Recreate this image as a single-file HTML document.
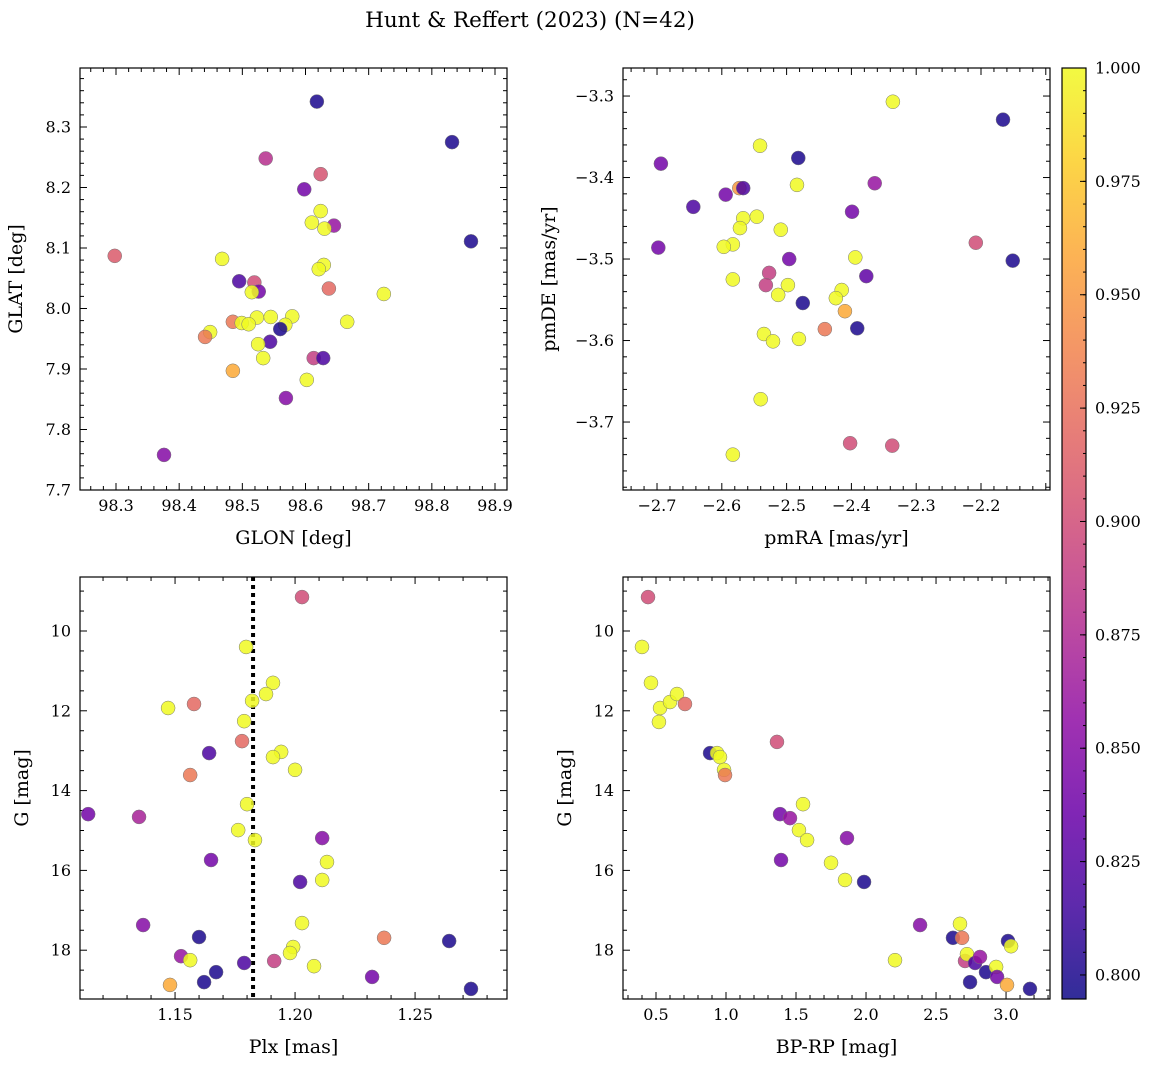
<!DOCTYPE html>
<html><head><meta charset="utf-8"><style>
body{margin:0;background:#fff;}
svg{display:block;font-family:"DejaVu Serif","Liberation Serif",serif;}
</style></head><body>
<svg id="chart" width="1160" height="1067" xmlns="http://www.w3.org/2000/svg">
<text x="530" y="27" text-anchor="middle" font-size="21.5">Hunt &amp; Reffert (2023) (N=42)</text>
</svg>
<script>
// Panel 1: GLON / GLAT
const glonA=[98.618,98.832,98.537,98.624,98.598,98.624,98.610,98.645,98.630,98.862,98.298,98.468,98.629,98.621,98.495,98.519,98.637,98.526,98.515,98.724,98.579,98.545,98.523,98.666,98.485,98.499,98.510,98.568,98.560,98.449,98.441,98.544,98.525,98.613,98.628,98.533,98.485,98.602,98.569,98.376];
const glatA=[8.342,8.275,8.248,8.222,8.197,8.161,8.142,8.137,8.132,8.111,8.087,8.082,8.072,8.065,8.045,8.043,8.033,8.028,8.027,8.024,7.987,7.986,7.985,7.978,7.978,7.976,7.974,7.973,7.966,7.961,7.953,7.945,7.941,7.918,7.918,7.918,7.897,7.882,7.852,7.758];
const probA=[0.80,0.80,0.88,0.905,0.84,1,1,0.86,1,0.80,0.91,1,1,1,0.82,0.90,0.92,0.84,1,1,1,1,1,1,0.93,1,1,1,0.80,1,0.93,0.82,1,0.89,0.82,1,0.96,1,0.85,0.85];
// Panel 2: pmRA / pmDE
const pmraB=[-2.336,-2.166,-2.541,-2.482,-2.694,-2.484,-2.364,-2.573,-2.567,-2.594,-2.644,-2.399,-2.567,-2.546,-2.572,-2.509,-2.583,-2.597,-2.698,-2.208,-2.496,-2.394,-2.151,-2.527,-2.377,-2.583,-2.532,-2.498,-2.415,-2.513,-2.424,-2.475,-2.410,-2.441,-2.391,-2.535,-2.521,-2.481,-2.540,-2.402,-2.337,-2.583];
const pmdeB=[-3.307,-3.329,-3.361,-3.376,-3.383,-3.409,-3.407,-3.413,-3.413,-3.421,-3.436,-3.442,-3.450,-3.448,-3.462,-3.464,-3.482,-3.485,-3.486,-3.480,-3.500,-3.498,-3.502,-3.517,-3.521,-3.525,-3.532,-3.532,-3.538,-3.544,-3.548,-3.554,-3.564,-3.586,-3.585,-3.592,-3.601,-3.598,-3.672,-3.726,-3.729,-3.740];
const probB=[1,0.80,1,0.80,0.84,1,0.86,0.95,0.82,0.84,0.82,0.84,1,1,1,1,1,1,0.84,0.90,0.84,1,0.80,0.89,0.83,1,0.89,1,1,1,1,0.80,0.96,0.93,0.80,1,1,1,1,0.90,0.90,1];
// Panel 3: Plx / G
const plxC=[1.2029,1.1796,1.1908,1.1879,1.1821,1.1579,1.1471,1.1788,1.1779,1.1642,1.1942,1.1908,1.2000,1.1563,1.1800,1.1138,1.1350,1.1763,1.1833,1.2113,1.1650,1.2133,1.2113,1.2021,1.2029,1.1367,1.1600,1.2371,1.2642,1.1992,1.1979,1.1525,1.1563,1.1913,1.1788,1.2079,1.1671,1.2321,1.1621,1.1479,1.2733];
const gC=[9.15,10.40,11.30,11.58,11.75,11.83,11.93,12.26,12.76,13.06,13.03,13.16,13.48,13.61,14.34,14.59,14.66,14.99,15.24,15.19,15.74,15.79,16.24,16.29,17.32,17.37,17.67,17.69,17.77,17.92,18.07,18.15,18.25,18.27,18.32,18.40,18.55,18.67,18.80,18.87,18.97];
const probC=[0.90,1,1,1,1,0.92,1,1,0.92,0.82,1,1,1,0.93,1,0.84,0.87,1,1,0.85,0.84,1,1,0.82,1,0.85,0.80,0.93,0.80,1,1,0.86,1,0.89,0.82,1,0.80,0.84,0.80,0.96,0.80];
const plxRef=[1.1825];
// Panel 4: BP-RP / G
const bprpD=[0.443,0.400,0.464,0.529,0.521,0.600,0.650,0.707,0.886,0.936,0.957,0.986,0.993,1.364,1.386,1.457,1.550,1.521,1.579,1.864,1.393,1.750,1.850,1.986,2.207,2.386,2.621,2.671,2.686,2.707,2.721,2.779,2.814,2.743,2.857,2.929,2.936,3.014,3.036,3.007,3.171];
const gD=[9.15,10.40,11.30,11.93,12.28,11.78,11.58,11.83,13.06,13.06,13.16,13.48,13.61,12.78,14.59,14.69,14.34,14.99,15.24,15.19,15.74,15.81,16.24,16.29,18.25,17.37,17.69,17.34,17.69,18.27,18.10,18.32,18.17,18.80,18.55,18.42,18.67,17.77,17.90,18.87,18.97];
const probD=[0.90,1,1,1,1,1,1,0.92,0.80,1,1,1,0.93,0.90,0.84,0.86,1,1,1,0.85,0.84,1,1,0.80,1,0.85,0.80,1,0.93,0.89,1,0.82,0.86,0.80,0.80,1,0.84,0.80,1,0.96,0.80];
const cbTicks=["0.800","0.825","0.850","0.875","0.900","0.925","0.950","0.975","1.000"];
const vmin=0.7947,vmax=1.0;

const NS="http://www.w3.org/2000/svg";
const svg=document.getElementById('chart');
function mk(tag,attrs,parent){const e=document.createElementNS(NS,tag);for(const k in attrs)e.setAttribute(k,attrs[k]);(parent||svg).appendChild(e);return e;}
const stops=["#0d0887","#41049d","#6a00a8","#8f0da4","#b12a90","#cc4778","#e16462","#f2844b","#fca636","#fcce25","#f0f921"];
function hex(h){return [1,3,5].map(i=>parseInt(h.substr(i,2),16));}
function plasma(t){t=Math.max(0,Math.min(1,t));const f=t*10,i=Math.min(9,Math.floor(f)),r=f-i;const a=hex(stops[i]),b=hex(stops[i+1]);return 'rgb('+a.map((v,k)=>Math.round(v+(b[k]-v)*r)).join(',')+')';}
function cmap(p){return plasma((p-vmin)/(vmax-vmin));}
function fmt(v,d){return v.toFixed(d).replace('-','\u2212');}

function panel(o){
  const g=mk('g',{},svg);
  
  
  const X=v=>o.x0+(v-o.xmin)/(o.xmax-o.xmin)*(o.x1-o.x0);
  const Y=o.yinv?(v=>o.y0+(v-o.ymin)/(o.ymax-o.ymin)*(o.y1-o.y0)):(v=>o.y1-(v-o.ymin)/(o.ymax-o.ymin)*(o.y1-o.y0));
  const tg=mk('g',{stroke:'#000','stroke-width':1},g);
  for(let v=Math.ceil(o.xmin/o.xminor-1e-6)*o.xminor;v<=o.xmax+1e-9;v+=o.xminor){
    const px=X(v);const isMaj=Math.abs(v/o.xmajor-Math.round(v/o.xmajor))<1e-4;const L=isMaj?7:4;
    mk('line',{x1:px,x2:px,y1:o.y1,y2:o.y1-L},tg);mk('line',{x1:px,x2:px,y1:o.y0,y2:o.y0+L},tg);
    if(isMaj && px>o.x0+8 && px<o.x1-8){const t=mk('text',{x:px,y:o.y1+21,'text-anchor':'middle','font-size':16,stroke:'none',fill:'#000'},g);t.textContent=fmt(v,o.xd);
      }
  }
  for(let v=Math.ceil(o.ymin/o.yminor-1e-6)*o.yminor;v<=o.ymax+1e-9;v+=o.yminor){
    const py=Y(v);const isMaj=Math.abs(v/o.ymajor-Math.round(v/o.ymajor))<1e-4;const L=isMaj?7:4;
    mk('line',{x1:o.x0,x2:o.x0+L,y1:py,y2:py},tg);mk('line',{x1:o.x1,x2:o.x1-L,y1:py,y2:py},tg);
    if(isMaj){const t=mk('text',{x:o.x0-9,y:py+5.5,'text-anchor':'end','font-size':16,stroke:'none',fill:'#000'},g);t.textContent=fmt(v,o.yd);
      }
  }
  if(o.vline){o.vline.forEach(v=>{const l=mk('line',{x1:X(v),x2:X(v),y1:o.y0,y2:o.y1,stroke:'#000','stroke-width':4,'stroke-dasharray':'4 4'},g);
    });}
  o.xs.forEach((xv,i)=>{
    const c=mk('circle',{cx:X(xv),cy:Y(o.ys[i]),r:7,fill:cmap(o.ps[i]),'fill-opacity':0.85,stroke:'#777','stroke-width':0.5},g);
    
    
  });
  mk('rect',{x:o.x0,y:o.y0,width:o.x1-o.x0,height:o.y1-o.y0,fill:'none',stroke:'#000','stroke-width':1.2},g);
  const xl=mk('text',{x:(o.x0+o.x1)/2,y:o.y1+54,'text-anchor':'middle','font-size':19},g);xl.textContent=o.xlabel;
  
  const cy=(o.y0+o.y1)/2,cx=o.x0-o.ylabOff;
  const yl=mk('text',{x:cx,y:cy,'text-anchor':'middle','font-size':19,transform:'rotate(-90 '+cx+' '+cy+')'},g);yl.textContent=o.ylabel;
  
}
panel({name:'glon-glat-panel',x0:80,x1:507,y0:68,y1:490,xmin:98.243,xmax:98.919,ymin:7.7,ymax:8.3975,xmajor:0.1,xminor:0.02,ymajor:0.1,yminor:0.02,xd:1,yd:1,xs:glonA,ys:glatA,ps:probA,xlabel:'GLON [deg]',ylabel:'GLAT [deg]',ylabOff:58});
panel({name:'pm-panel',x0:623,x1:1050,y0:68,y1:490,xmin:-2.7525,xmax:-2.0935,ymin:-3.7834,ymax:-3.2656,xmajor:0.1,xminor:0.02,ymajor:0.1,yminor:0.02,xd:1,yd:1,xs:pmraB,ys:pmdeB,ps:probB,xlabel:'pmRA [mas/yr]',ylabel:'pmDE [mas/yr]',ylabOff:68});
panel({name:'plx-g-panel',x0:80,x1:507,y0:577,y1:999,xmin:1.1104,xmax:1.2883,ymin:8.647,ymax:19.223,yinv:true,xmajor:0.05,xminor:0.01,ymajor:2,yminor:0.5,xd:2,yd:0,xs:plxC,ys:gC,ps:probC,xlabel:'Plx [mas]',ylabel:'G [mag]',ylabOff:52,vline:plxRef});
panel({name:'cmd-panel',x0:623,x1:1050,y0:577,y1:999,xmin:0.2643,xmax:3.314,ymin:8.647,ymax:19.223,yinv:true,xmajor:0.5,xminor:0.1,ymajor:2,yminor:0.5,xd:1,yd:0,xs:bprpD,ys:gD,ps:probD,xlabel:'BP-RP [mag]',ylabel:'G [mag]',ylabOff:52});

// colorbar
const cb=mk('g',{},svg);


const defs=mk('defs',{},svg);
const lg=mk('linearGradient',{id:'cbg',x1:0,y1:1,x2:0,y2:0},defs);
for(let i=0;i<=20;i++){mk('stop',{offset:i/20,'stop-color':plasma(i/20),'stop-opacity':0.85},lg);}
const cbx=1062,cbw=24,cby0=68,cby1=999;
mk('rect',{x:cbx,y:cby0,width:cbw,height:cby1-cby0,fill:'url(#cbg)'},cb);
const CY=v=>cby1-(v-vmin)/(vmax-vmin)*(cby1-cby0);
cbTicks.forEach(s=>{const v=parseFloat(s),py=CY(v);
  mk('line',{x1:cbx+cbw,x2:cbx+cbw-6,y1:py,y2:py,stroke:'#000'},cb);
  const t=mk('text',{x:cbx+cbw+9,y:py+5.5,'font-size':16},cb);t.textContent=s;
  });
for(let v=0.8;v<=1.0001;v+=0.005){mk('line',{x1:cbx+cbw,x2:cbx+cbw-3,y1:CY(v),y2:CY(v),stroke:'#000'},cb);}
mk('rect',{x:cbx,y:cby0,width:cbw,height:cby1-cby0,fill:'none',stroke:'#000','stroke-width':1.2},cb);
</script>
</body></html>
